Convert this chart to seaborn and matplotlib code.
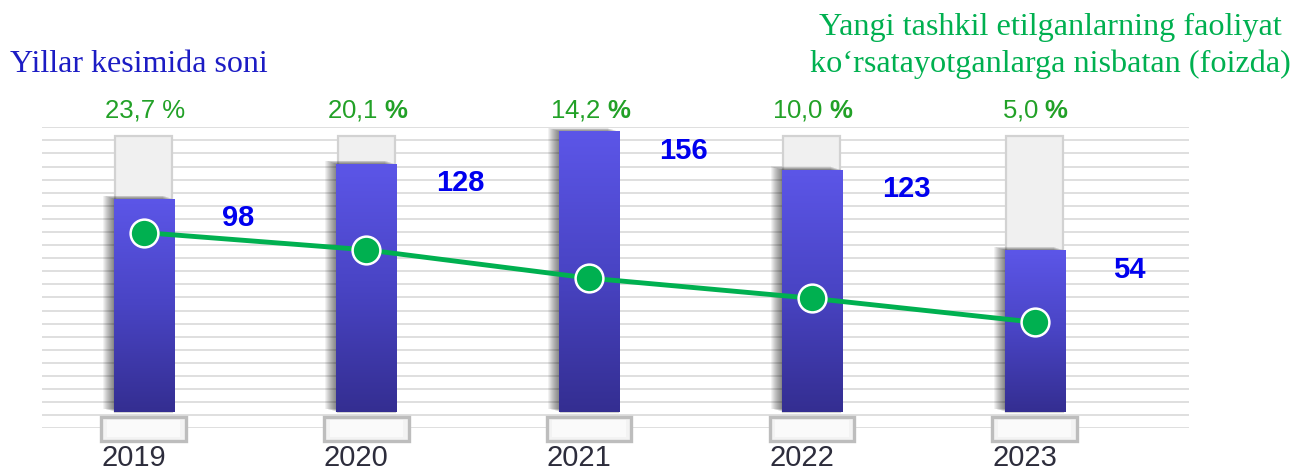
import numpy as np
import matplotlib
matplotlib.use("Agg")
import matplotlib.pyplot as plt
from matplotlib.patches import Rectangle
from matplotlib.colors import LinearSegmentedColormap
from matplotlib.transforms import ScaledTranslation, blended_transform_factory
import seaborn as sns

# --- data ---------------------------------------------------------------
years = ["2019", "2020", "2021", "2022", "2023"]
counts = [98, 128, 156, 123, 54]                 # number of new enterprises
share_pct = [23.7, 20.1, 14.2, 10.0, 5.0]        # share of active ones, %
track_level = 152                                # height of the grey container bars
bold_pct_sign = [False, True, True, True, True]

title_left = "Yillar kesimida soni"
title_right = ["Yangi tashkil etilganlarning faoliyat",
               "ko\u2018rsatayotganlarga nisbatan (foizda)"]

# --- style --------------------------------------------------------------
sns.set_theme(style="white")
plt.rcParams["font.family"] = ["Liberation Sans", "DejaVu Sans"]
plt.rcParams["mathtext.fontset"] = "custom"
plt.rcParams["mathtext.rm"] = "Liberation Sans"
plt.rcParams["mathtext.bf"] = "Liberation Sans:bold"

W, H = 1300, 469
fig = plt.figure(figsize=(W / 100, H / 100), dpi=100)
fig.patch.set_facecolor("white")
ax = fig.add_axes([42 / W, (H - 428.3) / H, (1189 - 42) / W, 301 / H])
ax.set_facecolor("none")

BAR_FLOOR = -85          # value axis starts below zero; bars rise from the floor
YLIM = (-99.0, 159.4)
XLIM = (-0.456, 4.693)

# horizontal guide lines
for f in np.linspace(0, 1, 24):
    ax.plot([0, 1], [f, f], transform=ax.transAxes, color="#dcdcdc",
            lw=1.3, zorder=0, solid_capstyle="butt")

# grey container bars
sns.barplot(x=years, y=[track_level - BAR_FLOOR] * len(years), bottom=BAR_FLOOR,
            width=0.256, color="#f0f0f0", edgecolor="#d2d2d2", linewidth=1.6,
            saturation=1, errorbar=None, ax=ax, zorder=1)

# main bars
sns.barplot(x=years, y=np.array(counts) - BAR_FLOOR, bottom=BAR_FLOOR,
            width=0.27, color="#4b46c8", linewidth=0, saturation=1,
            errorbar=None, ax=ax, zorder=2)

cmap = LinearSegmentedColormap.from_list("barfill", ["#342e91", "#4944c4", "#5c56e8"])
grad = np.linspace(0, 1, 256).reshape(-1, 1)
for p in ax.containers[1]:
    x0, y0, w, h = p.get_x(), p.get_y(), p.get_width(), p.get_height()
    # soft shadow on the left side
    for k in range(1, 12):
        off = ScaledTranslation(-k / 100, 0.3 * k / 100, fig.dpi_scale_trans)
        ax.add_patch(Rectangle((x0, y0), w, h, transform=ax.transData + off,
                               facecolor="black", alpha=0.05, lw=0, zorder=1.5))
    im = ax.imshow(grad, extent=(x0, x0 + w, y0, y0 + h), origin="lower",
                   aspect="auto", cmap=cmap, zorder=2.1, interpolation="bilinear")
    im.set_clip_path(p)

# pedestals under the bars
blend = blended_transform_factory(ax.transData, ax.transAxes)
for i in range(len(years)):
    ax.add_patch(Rectangle((i - 0.19, -0.042), 0.38, 0.08, transform=blend,
                           facecolor="#f3f3f3", edgecolor="#bdbdbd", lw=2.4,
                           zorder=3, clip_on=False))
    ax.add_patch(Rectangle((i - 0.165, -0.03), 0.33, 0.056, transform=blend,
                           facecolor="#fafafa", edgecolor="none", lw=0,
                           zorder=3.1, clip_on=False))

# value labels next to the bars
for i, v in enumerate(counts):
    ax.annotate(str(v), xy=(i, v), xytext=(68, -14), textcoords="offset points",
                ha="center", va="center", fontsize=21, fontweight="bold",
                color="#0000ee", zorder=6)

# percentage labels above the bars
for i, (v, b) in enumerate(zip(share_pct, bold_pct_sign)):
    num = f"{v:.1f}".replace(".", ",")
    sign = r"$\mathbf{\%}$" if b else "%"
    ax.annotate(f"{num} {sign}", xy=(i, 1.034), xycoords=("data", "axes fraction"),
                xytext=(1, 0), textcoords="offset points", ha="center",
                va="baseline", fontsize=18.5, color="#22a127", annotation_clip=False)

ax.set_xlim(*XLIM)
ax.set_ylim(*YLIM)
ax.set_yticks([])
ax.set_xticks(range(len(years)))
ax.set_xticklabels(years, fontsize=21, color="#2d2d3c")
ax.tick_params(axis="x", length=0, pad=11)
shift = ScaledTranslation(-10 / 100, 0, fig.dpi_scale_trans)
for lbl in ax.get_xticklabels():
    lbl.set_transform(lbl.get_transform() + shift)
ax.set_xlabel("")
ax.set_ylabel("")
for s in ax.spines.values():
    s.set_visible(False)

# percentage trend line on a twin axis
ax2 = ax.twinx()
sns.lineplot(x=np.arange(len(years)), y=share_pct, ax=ax2, color="#00b050",
             lw=3.5, marker="o", markersize=20, markerfacecolor="#00b050",
             markeredgecolor="white", markeredgewidth=1.8, zorder=5)
ax2.set_ylim(-17.12, 45.65)
ax2.set_xlim(*XLIM)
ax2.set_yticks([])
ax2.set_ylabel("")
ax2.set_facecolor("none")
for s in ax2.spines.values():
    s.set_visible(False)

# titles
fig.text(10 / W, 1 - 71.5 / H, title_left, family="Liberation Serif",
         fontsize=23, color="#1c1cc4", va="baseline", ha="left")
for line, base in zip(title_right, [35, 72]):
    fig.text(1050 / W, 1 - base / H, line, family="Liberation Serif",
             fontsize=23.2, color="#00b050", va="baseline", ha="center")

fig.savefig("out.png", dpi=100)
